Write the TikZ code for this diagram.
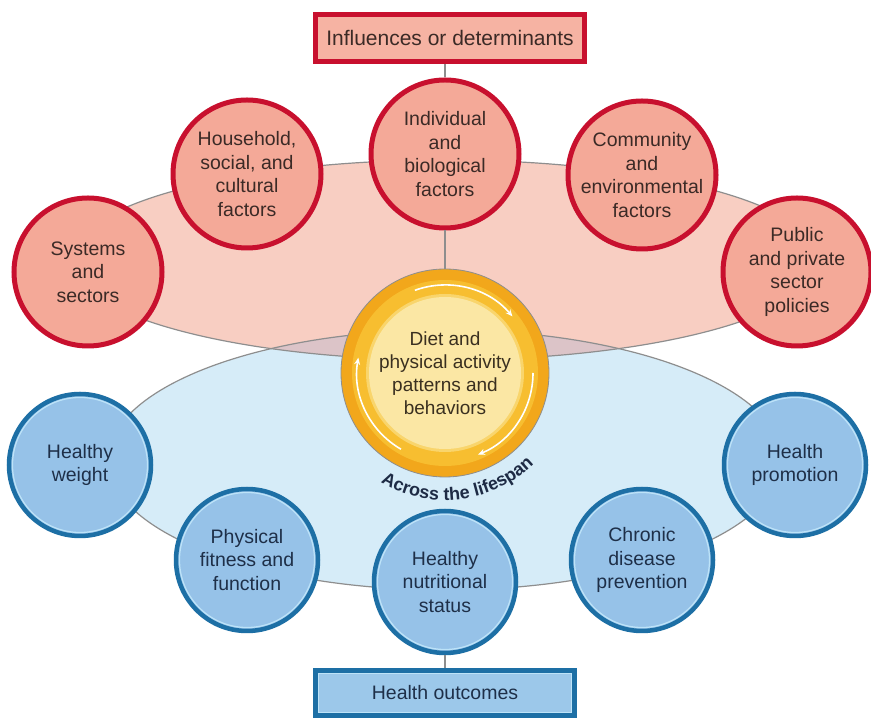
\documentclass[tikz,border=0pt]{standalone}
\usepackage{fontspec}
\setmainfont{Liberation Sans}
\usetikzlibrary{decorations.text,arrows.meta}
\definecolor{redline}{HTML}{C8102E}
\definecolor{redfill}{HTML}{F4A998}
\definecolor{redtext}{HTML}{3B2A26}
\definecolor{boxpink}{HTML}{F6B3A3}
\definecolor{blueline}{HTML}{1D6FA5}
\definecolor{bluefill}{HTML}{96C2E8}
\definecolor{bluetext}{HTML}{1E2F48}
\definecolor{boxblue}{HTML}{9CC8EA}
\definecolor{lightring}{HTML}{BDE3F8}
\definecolor{pinkbg}{HTML}{F8CEC2}
\definecolor{bluebg}{HTML}{D6ECF8}
\definecolor{overlapbg}{HTML}{DCC4C8}
\definecolor{outlinegray}{HTML}{8E8E8E}
\definecolor{ringdark}{HTML}{F2A71B}
\definecolor{ringlight}{HTML}{F7BE30}
\definecolor{ringpale}{HTML}{FBE7A4}
\definecolor{ringedge}{HTML}{F9D56C}
\definecolor{centertext}{HTML}{3A3020}
\definecolor{navytext}{HTML}{1E2B45}
\begin{document}
\begin{tikzpicture}[x=1pt,y=1pt,
  redc/.style={circle, fill=redfill, draw=redline, line width=5pt,
    minimum size=148pt, inner sep=-14pt, align=center, text=redtext,
    font=\fontsize{19.5}{23.5}\selectfont},
  bluec/.style={circle, fill=bluefill, draw=blueline, line width=4.5pt,
    minimum size=142pt, inner sep=-14pt, align=center, text=bluetext,
    font=\fontsize{19.5}{23.5}\selectfont},
  dietc/.style={circle, draw=outlinegray, line width=0.8pt,
    minimum size=208pt, inner sep=0pt, align=center, text=centertext,
    font=\fontsize{19}{23}\selectfont},
  redbox/.style={rectangle, fill=boxpink, draw=redline, line width=5pt,
    minimum width=269pt, minimum height=47pt, text=redtext,
    font=\fontsize{21}{24}\selectfont},
  bluebox/.style={rectangle, fill=boxblue, draw=blueline, line width=4.5pt,
    minimum width=259pt, minimum height=45pt, text=bluetext,
    font=\fontsize{19.5}{23}\selectfont},
  conn/.style={draw=outlinegray, line width=1.2pt},
  ellout/.style={draw=outlinegray, line width=1.2pt}
]
\useasboundingbox (0,0) rectangle (871,720);
\fill[white] (0,0) rectangle (871,720);

% background ellipses
\fill[pinkbg] (445,460) ellipse [x radius=375pt, y radius=100pt];
\fill[bluebg] (445,260) ellipse [x radius=337pt, y radius=130pt];
\begin{scope}
  \clip (445,460) ellipse [x radius=375pt, y radius=100pt];
  \fill[overlapbg] (445,260) ellipse [x radius=337pt, y radius=130pt];
\end{scope}
\draw[ellout] (445,460) ellipse [x radius=375pt, y radius=100pt];
\draw[ellout] (445,260) ellipse [x radius=337pt, y radius=130pt];

% center ring
\coordinate (dc) at (445,347);
\fill[ringdark] (dc) circle (104pt);
\fill[ringlight] (dc) circle (93pt);
\fill[ringedge] (dc) circle (79pt);
\fill[ringpale] (dc) circle (76pt);
\foreach \a/\b in {110/40, 240/170, 0/-68}
  \draw[white, line width=1.6pt, -{Stealth[length=7pt,width=6pt]}]
    ([shift={(\a:88pt)}]dc) arc[start angle=\a, end angle=\b, radius=88pt];
\node[dietc] (diet) at (dc) {Diet and\\physical activity\\patterns and\\behaviors};

% influence circles
\node[redc] (indiv) at (445,566) {Individual\\and\\biological\\factors};
\node[redc] (house) at (247,546) {Household,\\social, and\\cultural\\factors};
\node[redc] (comm) at (642,545) {Community\\and\\environmental\\factors};
\node[redc] (sys) at (88,448) {Systems\\and\\sectors};
\node[redc] (pub) at (797,448) {Public\\and private\\sector\\policies};

% outcome circles
\node[bluec] (hw) at (80,255) {Healthy\\weight};
\node[bluec] (hp) at (795,255) {Health\\promotion};
\node[bluec] (pf) at (247,160) {Physical\\fitness and\\function};
\node[bluec] (hn) at (445,138) {Healthy\\nutritional\\status};
\node[bluec] (cd) at (642,160) {Chronic\\disease\\prevention};
\foreach \n in {hw,hp,pf,hn,cd}
  \draw[lightring, line width=1.2pt] (\n.center) circle (67.5pt);

% boxes
\node[redbox] (top) at (450,682) {Influences or determinants};
\node[bluebox] (bot) at (445,27) {Health outcomes};
\draw[lightring, line width=1.2pt]
  ([shift={(5pt,5pt)}]bot.south west) rectangle ([shift={(-5pt,-5pt)}]bot.north east);

% connectors
\draw[conn] (top.south -| indiv.north) -- (indiv.north);
\draw[conn] (indiv) -- (diet);
\draw[conn] (hn) -- (bot);

% curved label
\path[decorate, decoration={text along path, text align=center,
  text={|\fontsize{18}{18}\selectfont\bfseries\color{navytext}|Across the lifespan}}]
  ([shift={(226:127pt)}]dc) arc[start angle=226, end angle=328, radius=127pt];
\end{tikzpicture}
\end{document}
